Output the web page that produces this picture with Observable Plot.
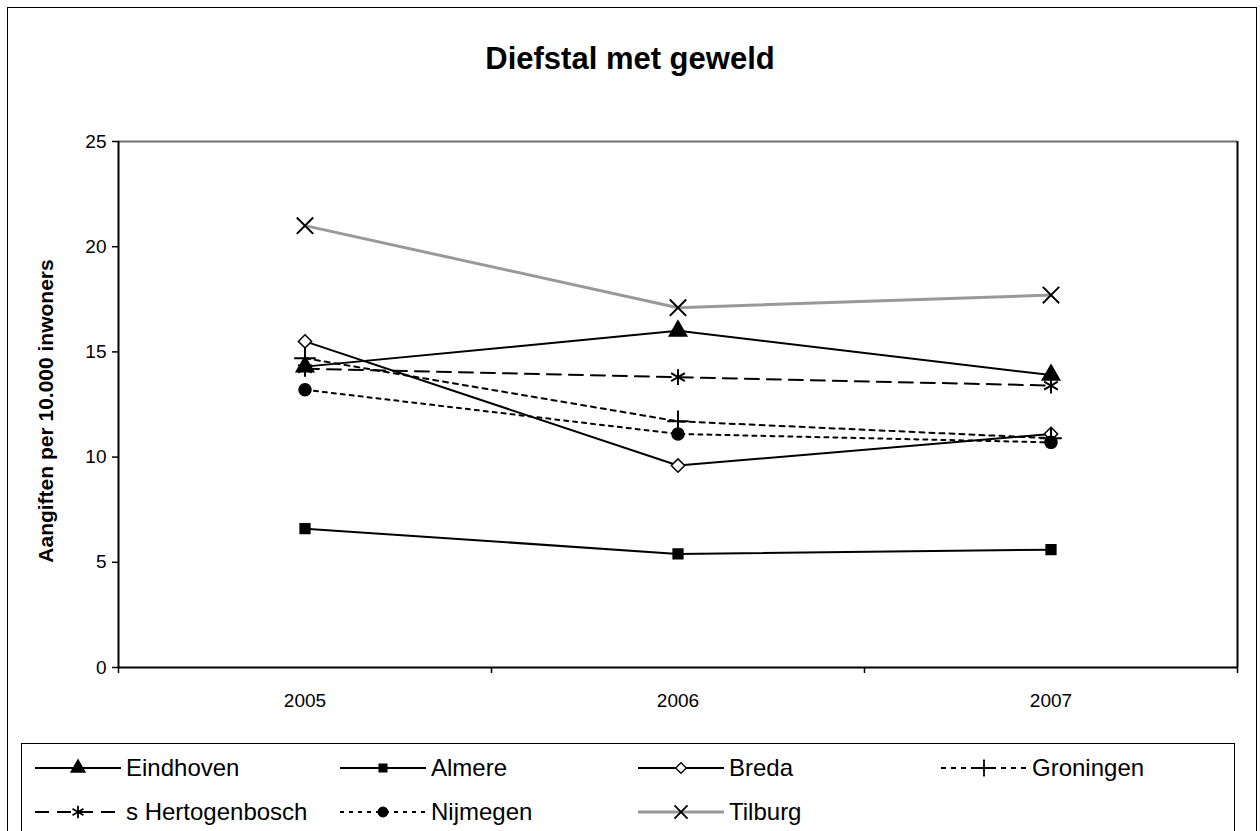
<!DOCTYPE html>
<html>
<head>
<meta charset="utf-8">
<script src="https://cdn.jsdelivr.net/npm/d3@7"></script>
<script src="https://cdn.jsdelivr.net/npm/@observablehq/plot@0.6"></script>
<style>
  html, body { margin: 0; padding: 0; background: #fff; }
  body { width: 1260px; height: 831px; overflow: hidden; position: relative; font-family: "Liberation Sans", Arial, sans-serif; }
  #frame { position: absolute; left: 7px; top: 7px; width: 1248px; height: 900px; border: 1px solid #000; }
  #title { position: absolute; left: 0; width: 1260px; top: 43px; line-height: 31px; text-align: center; font-weight: bold; font-size: 31px; }
  #chart { position: absolute; left: 0; top: 0; }
  #chart svg text { font-size: 19px !important; }
  #ylabel { position: absolute; left: 46px; top: 411px; transform: translate(-50%, -50%) rotate(-90deg); white-space: nowrap; font-weight: bold; font-size: 21px; }
  #legend { position: absolute; left: 21px; top: 743px; width: 1212px; height: 120px; border: 1px solid #000; }
  .item { position: absolute; display: flex; align-items: center; font-size: 24px; }
  .item svg { display: block; }
</style>
</head>
<body>
<div id="frame"></div>
<div id="title">Diefstal met geweld</div>
<div id="chart"></div>
<div id="ylabel">Aangiften per 10.000 inwoners</div>
<div id="legend"></div>
<script>
// ---- data ----
const years = [2005, 2006, 2007];
const cities = ["Eindhoven", "Almere", "Breda", "Groningen", "s Hertogenbosch", "Nijmegen", "Tilburg"];
const eindhoven = [14.3, 16.0, 13.9];
const almere = [6.6, 5.4, 5.6];
const breda = [15.5, 9.6, 11.1];
const groningen = [14.7, 11.7, 10.9];
const sHertogenbosch = [14.2, 13.8, 13.4];
const nijmegen = [13.2, 11.1, 10.7];
const tilburg = [21.0, 17.1, 17.7];
const yTicks = [0, 5, 10, 15, 20, 25];

const seriesValues = [eindhoven, almere, breda, groningen, sHertogenbosch, nijmegen, tilburg];

// ---- styles ----
const styles = {
  "Eindhoven":       {stroke: "#000", width: 2, dash: null,   symbol: "triangle", fill: "#000", r: 6.5},
  "Almere":          {stroke: "#000", width: 2, dash: null,   symbol: "square",   fill: "#000", r: 5.5},
  "Breda":           {stroke: "#000", width: 2, dash: null,   symbol: "diamond2", fill: "#fff", r: 6},
  "Groningen":       {stroke: "#000", width: 2, dash: "5,5",  symbol: "plus",     fill: "none", r: 7},
  "s Hertogenbosch": {stroke: "#000", width: 2, dash: "14,8", symbol: "asterisk", fill: "none", r: 7.5},
  "Nijmegen":        {stroke: "#000", width: 2, dash: "4,5",  symbol: "circle",   fill: "#000", r: 6},
  "Tilburg":         {stroke: "#999", width: 3, dash: null,   symbol: "times",    fill: "none", r: 7.5}
};

const rows = cities.flatMap((c, i) => years.map((y, j) => ({city: c, year: y, value: seriesValues[i][j]})));

const marks = [];
for (const c of cities) {
  const s = styles[c];
  const data = rows.filter(d => d.city === c);
  marks.push(Plot.line(data, {x: "year", y: "value", stroke: s.stroke, strokeWidth: s.width, strokeDasharray: s.dash ?? undefined}));
  marks.push(Plot.dot(data, {x: "year", y: "value", symbol: s.symbol, r: s.r,
    fill: s.fill, stroke: "#000", strokeWidth: s.fill === "none" ? 2 : 1.5}));
}

const xBounds = [years[0] - 0.5, ...years.map(y => y + 0.5)];

const chart = Plot.plot({
  width: 1260,
  height: 720,
  marginLeft: 118,
  marginRight: 23,
  marginTop: 141,
  marginBottom: 53,
  style: {fontFamily: "'Liberation Sans', Arial, sans-serif", fontSize: "19px", color: "#000", background: "transparent"},
  x: {domain: [xBounds[0], xBounds[xBounds.length - 1]]},
  y: {domain: [0, 25]},
  marks: [
    Plot.ruleY([25], {stroke: "#707070", strokeWidth: 2}),
    Plot.ruleX([xBounds[xBounds.length - 1]], {stroke: "#000", strokeWidth: 2}),
    Plot.axisY({ticks: yTicks, tickSize: 6, tickPadding: 6, label: null, strokeWidth: 1.5}),
    Plot.axisX({ticks: years, tickSize: 0, tickPadding: 26, tickFormat: d => String(d), label: null}),
    Plot.axisX({ticks: xBounds, tickSize: 6, tickFormat: () => "", label: null, strokeWidth: 1.5}),
    Plot.ruleX([xBounds[0]], {stroke: "#000", strokeWidth: 2}),
    Plot.ruleY([0], {stroke: "#000", strokeWidth: 2}),
    ...marks
  ]
});
document.getElementById("chart").appendChild(chart);

// ---- legend ----
const legend = document.getElementById("legend");
const symbolMap = {triangle: d3.symbolTriangle, square: d3.symbolSquare, diamond2: d3.symbolDiamond2,
  plus: d3.symbolPlus, asterisk: d3.symbolAsterisk, circle: d3.symbolCircle, times: d3.symbolTimes};
const colX = [13, 318, 616, 919];
const rowY = [24, 68];
cities.forEach((c, i) => {
  const s = styles[c];
  const col = i % 4, row = Math.floor(i / 4);
  const div = document.createElement("div");
  div.className = "item";
  div.style.left = colX[col] + "px";
  div.style.top = (rowY[row] - 15) + "px";
  div.style.height = "30px";
  const w = 86, h = 30;
  const svg = d3.create("svg").attr("width", w).attr("height", h);
  svg.append("line").attr("x1", 0).attr("x2", w).attr("y1", h / 2).attr("y2", h / 2)
    .attr("stroke", s.stroke).attr("stroke-width", s.width).attr("stroke-dasharray", s.dash);
  const r = s.r * 0.8;
  svg.append("path").attr("transform", `translate(${w / 2},${h / 2})`)
    .attr("d", d3.symbol(symbolMap[s.symbol], r * r * Math.PI)())
    .attr("fill", s.fill).attr("stroke", "#000").attr("stroke-width", s.fill === "none" ? 1.8 : 1.3);
  div.appendChild(svg.node());
  const span = document.createElement("span");
  span.textContent = c;
  span.style.marginLeft = "5px";
  div.appendChild(span);
  legend.appendChild(div);
});
</script>
</body>
</html>
